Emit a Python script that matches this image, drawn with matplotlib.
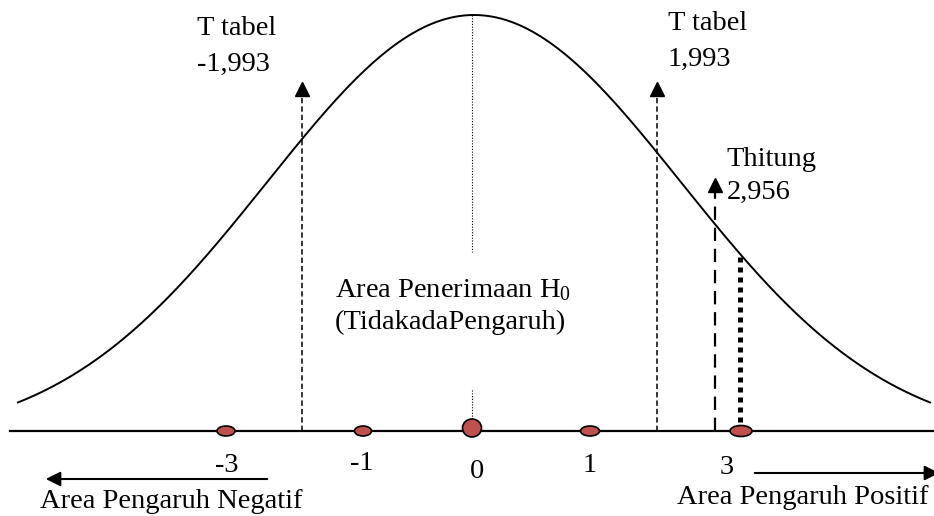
import numpy as np
import matplotlib
matplotlib.use("Agg")
import matplotlib.pyplot as plt
from matplotlib.patches import Ellipse

plt.rcParams['font.family'] = ['Liberation Serif', 'DejaVu Serif']
plt.rcParams['mathtext.fontset'] = 'custom'
plt.rcParams['mathtext.rm'] = 'Liberation Serif'
plt.rcParams['mathtext.it'] = 'Liberation Serif:italic'
plt.rcParams['mathtext.bf'] = 'Liberation Serif:bold'

# ---- data (diagram positions in pixel space) ----
tick_labels = ["-3", "-1", "0", "1", "3"]
tick_pos = [226, 363, 472, 590, 741]
dot_w = [18, 17, 19, 19, 22]
dot_h = [10, 10, 18, 10, 11]
t_table_values = ["-1,993", "1,993"]
t_table_pos = [302, 657]
t_hitung_value = "2,956"
t_hitung_pos = 715
t_hitung_point = 740
curve_center = 474
curve_sigma = 207

fig = plt.figure(figsize=(9.34, 5.16), dpi=100)
ax = fig.add_axes([0, 0, 1, 1])
ax.set_xlim(0, 934)
ax.set_ylim(516, 0)
ax.axis('off')

base_y = 431
B, A = 440, 425

def curve_y(x):
    return B - A * np.exp(-((np.asarray(x) - curve_center) ** 2) / (2 * curve_sigma ** 2))

xs = np.linspace(18, 930, 600)
ax.plot(xs, curve_y(xs), color='black', lw=1.4, zorder=3)

# horizontal axis
ax.plot([10, 934], [base_y, base_y], color='black', lw=1.6, zorder=2)

# center dotted line
ax.plot([472, 472], [curve_y(472), 252], color='black', lw=0.8, ls=(0, (1, 1.5)), zorder=2)
ax.plot([472, 472], [390, 420], color='black', lw=0.8, ls=(0, (1, 1.5)), zorder=2)

# T tabel dashed arrows
for xp in t_table_pos:
    ax.plot([xp, xp], [base_y, 92], color='black', lw=1.1, ls=(0, (3.5, 2)), zorder=2)
    ax.plot([xp], [89], marker='^', color='black', markersize=10, zorder=4)

# T hitung dashed arrow
ax.plot([t_hitung_pos, t_hitung_pos], [base_y, 188], color='black', lw=1.6, ls=(0, (6, 3.5)), zorder=2)
ax.plot([t_hitung_pos], [185], marker='^', color='black', markersize=10, zorder=4)

# T hitung thick dotted line
ax.plot([t_hitung_point, t_hitung_point], [curve_y(t_hitung_point) + 3, 428], color='black',
        lw=3.6, ls=(0, (1, 1.0)), zorder=2)

# dots on axis
for xp, w, h in zip(tick_pos, dot_w, dot_h):
    cy = base_y - 3 if h > 12 else base_y
    ax.add_patch(Ellipse((xp, cy), w, h, facecolor='#C0504D', edgecolor='black', lw=1.2, zorder=5))

fs = 20.5
# tick labels
tick_base = [472, 470, 478, 472, 474]
tick_x = [227, 362, 477, 590, 727]
for lbl, xp, yb in zip(tick_labels, tick_x, tick_base):
    ax.text(xp, yb, lbl, fontsize=fs, ha='center', va='baseline')

# T tabel labels
ax.text(197, 35, "T tabel", fontsize=fs, ha='left', va='baseline')
ax.text(197, 71, t_table_values[0], fontsize=fs, ha='left', va='baseline')
ax.text(668, 30, "T tabel", fontsize=fs, ha='left', va='baseline')
ax.text(668, 66, t_table_values[1], fontsize=fs, ha='left', va='baseline')
ax.text(726, 166, "Thitung", fontsize=fs, ha='left', va='baseline')
ax.text(727, 199, t_hitung_value, fontsize=fs, ha='left', va='baseline')

# center text
ax.text(335, 297, "Area Penerimaan H$_0$", fontsize=fs, ha='left', va='baseline')
ax.text(335, 329, "(TidakadaPengaruh)", fontsize=fs, ha='left', va='baseline')

# bottom arrows
ax.annotate("", xy=(43, 479), xytext=(270, 479), annotation_clip=False,
            arrowprops=dict(arrowstyle='-|>', color='black', lw=1.5, mutation_scale=22))
ax.annotate("", xy=(942, 473), xytext=(752, 473), annotation_clip=False,
            arrowprops=dict(arrowstyle='-|>', color='black', lw=1.5, mutation_scale=22))

ax.text(40, 508, "Area Pengaruh Negatif", fontsize=fs, ha='left', va='baseline')
ax.text(677, 504, "Area Pengaruh Positif", fontsize=fs, ha='left', va='baseline')

fig.savefig("out.png", dpi=100)
